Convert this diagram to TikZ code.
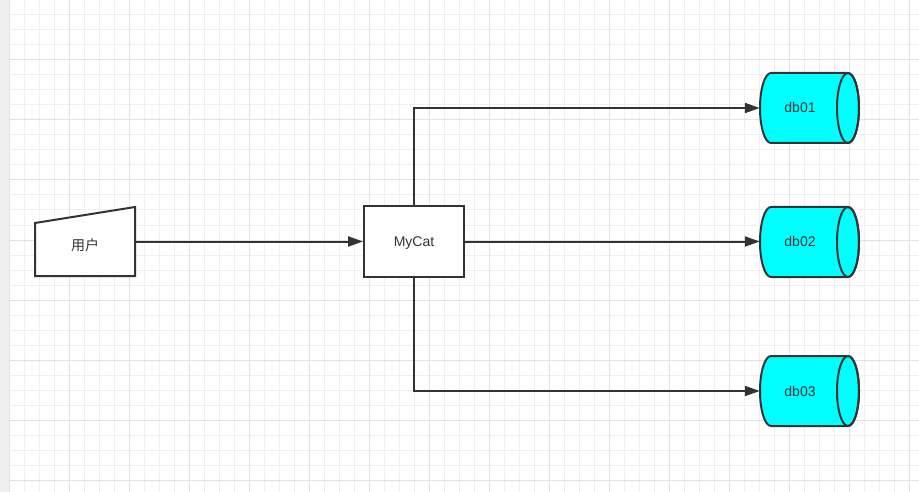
\documentclass[tikz,border=0pt]{standalone}
\usepackage{fontspec}
\setmainfont{Liberation Sans}
\newfontfamily\cjk{Noto Sans CJK SC}
\usetikzlibrary{arrows.meta}
\definecolor{ink}{HTML}{333333}
\definecolor{gminor}{HTML}{EFEFEF}
\definecolor{gmajor}{HTML}{E2E2E2}
\definecolor{strip}{HTML}{F0F0F0}
\definecolor{dbfill}{HTML}{00FFFF}
\newcommand{\mydbcyl}[3]{%
  \path[fill=dbfill, draw=ink, line width=2pt, line join=round]
    (771,#2-35) -- (848,#2-35)
    arc[start angle=90, end angle=-90, x radius=11pt, y radius=35pt]
    -- (771,#2+35)
    arc[start angle=270, end angle=90, x radius=11pt, y radius=35pt] -- cycle;
  \draw[ink, line width=2pt] (848,#2) ellipse [x radius=11pt, y radius=35pt];
  \node[lbl, minimum width=80pt, minimum height=70pt] (#1) at (800,#2) {#3};
}
\begin{document}
\begin{tikzpicture}[x=1pt, y=-1pt,
  lbl/.style={inner sep=0pt, text=ink, font=\fontsize{14}{16}\selectfont, text height=11pt, text depth=1pt},
  box/.style={lbl, draw=ink, line width=2pt, fill=white, minimum width=100pt, minimum height=70pt},
  conn/.style={draw=ink, line width=2pt, -{Triangle[length=15pt, width=10pt]}}
]
\useasboundingbox (0,0) rectangle (919,492);
\fill[white] (0,0) rectangle (919,492);
\fill[strip] (0,0) rectangle (9,492);
\foreach \x in {9,24,...,919} \draw[gminor, line width=1pt] (\x,0) -- (\x,492);
\foreach \y in {15,30,...,492} \draw[gminor, line width=1pt] (9,\y) -- (919,\y);
\foreach \x in {9,69,...,919} \draw[gmajor, line width=1pt] (\x,0) -- (\x,492);
\foreach \y in {60,120,...,492} \draw[gmajor, line width=1pt] (9,\y) -- (919,\y);

% user (manual input)
\draw[ink, line width=2pt, fill=white, line join=miter] (35,223) -- (135,207) -- (135,276) -- (35,276) -- cycle;
\node[inner sep=0pt, minimum width=100pt, minimum height=69pt] (user) at (85,241.5) {};
\node[lbl] (userlbl) at (85,245.5) {\cjk 用户};

% MyCat
\node[box] (mycat) at (414,241.5) {MyCat};

% databases
\mydbcyl{db01}{108}{db01}
\mydbcyl{db02}{242}{db02}
\mydbcyl{db03}{391}{db03}

% connectors
\draw[conn] (user.east) -- (mycat.west);
\draw[conn] (mycat.east) -- (db02.west |- mycat.east);
\draw[conn] (mycat.north) |- (db01.west);
\draw[conn] (mycat.south) |- (db03.west);
\end{tikzpicture}
\end{document}
